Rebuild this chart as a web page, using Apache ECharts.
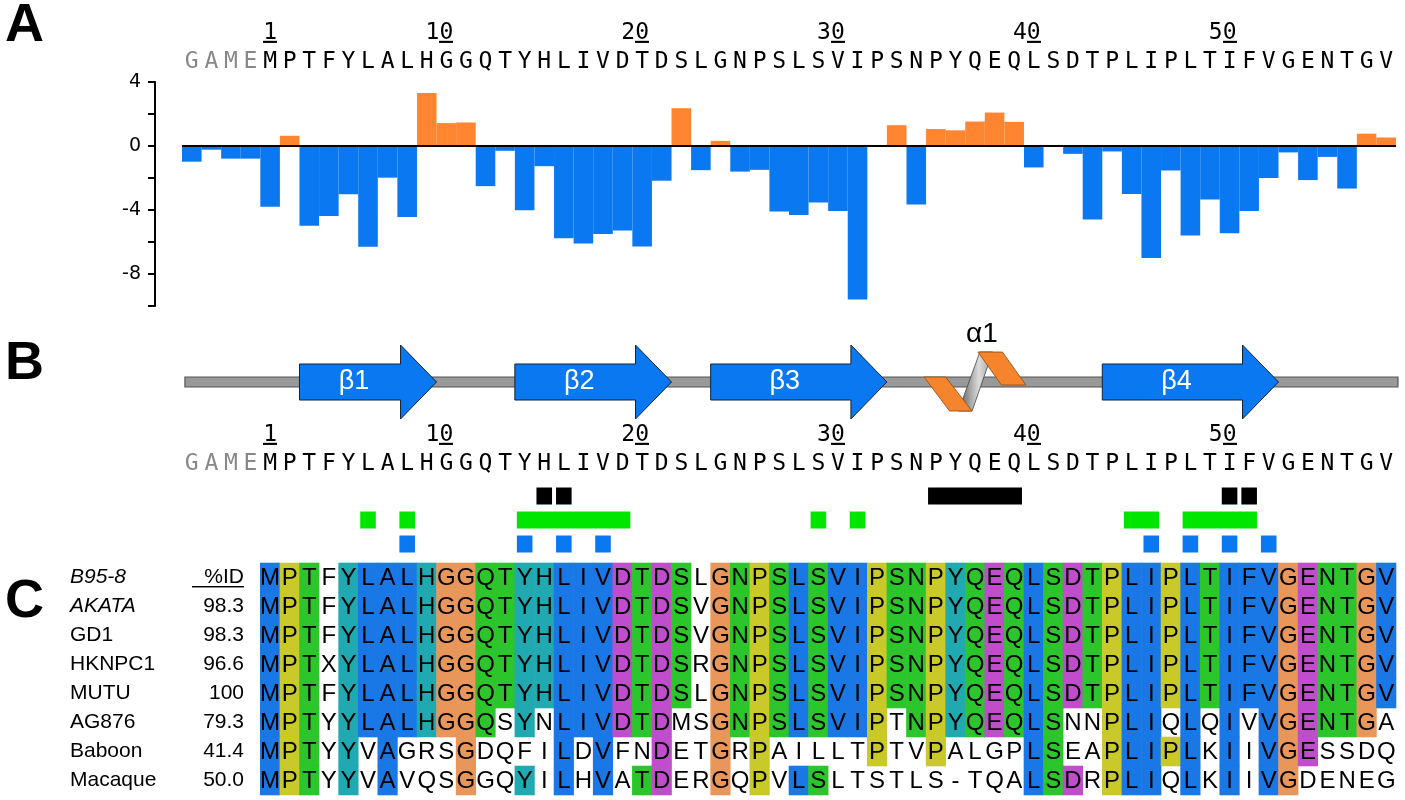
<!DOCTYPE html>
<html><head><meta charset="utf-8">
<script src="https://cdn.jsdelivr.net/npm/echarts@6/dist/echarts.min.js"></script>
<style>html,body{margin:0;padding:0;background:#fff}#c{width:1405px;height:800px}</style>
</head><body><div id="c"></div>
<script>
// ---- data ----
const seqLetters = 'GAMEMPTFYLALHGGQTYHLIVDTDSLGNPSLSVIPSNPYQEQLSDTPLIPLTIFVGENTGV'.split('');
const tagLength = 4; // GAME tag before residue 1
const hydro = [-0.98,-0.23,-0.79,-0.79,-3.8,0.64,-4.98,-4.38,-3.02,-6.3,-1.98,-4.43,3.32,1.43,1.47,-2.51,-0.3,-4.02,-1.26,-5.77,-6.1,-5.5,-5.28,-6.28,-2.17,2.36,-1.51,0.32,-1.6,-1.49,-4.1,-4.32,-3.53,-4.06,-9.6,0,1.3,-3.66,1.06,0.98,1.53,2.09,1.51,-1.34,0,-0.49,-4.6,-0.34,-3.0,-7.0,-1.53,-5.6,-3.34,-5.45,-4.06,-2.0,-0.4,-2.13,-0.68,-2.66,0.77,0.53];
const numberedResidues = [1,10,20,30,40,50];
const strands = [['β1',3,9],['β2',14,21],['β3',24,32],['β4',44,52]];
const helix = ['α1',35,39];
const blackMarks = [[15,15],[16,16],[35,39],[50,50],[51,51]];
const greenMarks = [[6,6],[8,8],[14,19],[29,29],[31,31],[45,46],[48,51]];
const blueMarks = [[8,8],[14,14],[16,16],[18,18],[46,46],[48,48],[50,50],[52,52]];
const strainNames = ['B95-8','AKATA','GD1','HKNPC1','MUTU','AG876','Baboon','Macaque'];
const pctID = ['%ID','98.3','98.3','96.6','100','79.3','41.4','50.0'];
const alignSeqs = [
 'MPTFYLALHGGQTYHLIVDTDSLGNPSLSVIPSNPYQEQLSDTPLIPLTIFVGENTGV',
 'MPTFYLALHGGQTYHLIVDTDSVGNPSLSVIPSNPYQEQLSDTPLIPLTIFVGENTGV',
 'MPTFYLALHGGQTYHLIVDTDSVGNPSLSVIPSNPYQEQLSDTPLIPLTIFVGENTGV',
 'MPTXYLALHGGQTYHLIVDTDSRGNPSLSVIPSNPYQEQLSDTPLIPLTIFVGENTGV',
 'MPTFYLALHGGQTYHLIVDTDSLGNPSLSVIPSNPYQEQLSDTPLIPLTIFVGENTGV',
 'MPTYYLALHGGQSYNLIVDTDMSGNPSLSVIPTNPYQEQLSNNPLIQLQIVVGENTGA',
 'MPTYYVAGRSGDQFILDVFNDETGRPAILLTPTVPALGPLSEAPLIPLKIIVGESSDQ',
 'MPTYYVAVQSGGQYILHVATDERGQPVLSLTSTLS-TQALSDRPLIQLKIIVGDENEG'];
const uncolored = [
 [4,23],[4,23],[4,23],[4,23],[4,23],
 [4,13,15,22,23,33,42,43,47,49,51,58],
 [4,6,8,9,10,12,13,14,15,17,19,20,22,23,25,27,28,29,30,31,33,34,36,37,38,39,42,43,49,51,55,56,57,58],
 [4,6,8,9,10,12,13,15,17,19,22,23,25,27,30,31,32,33,34,35,36,37,38,39,43,47,49,51,54,55,56,57,58]];
// ---- styles ----
const resColor = {A:'#1a77e6',I:'#1a77e6',L:'#1a77e6',M:'#1a77e6',F:'#1a77e6',V:'#1a77e6',W:'#1a77e6',
  S:'#2cc52c',T:'#2cc52c',N:'#2cc52c',Q:'#2cc52c',D:'#c04ecc',E:'#c04ecc',G:'#e8965a',P:'#c9c92a',H:'#20a9b0',Y:'#20a9b0'};
const N = seqLetters.length;
const idx = r => r + tagLength - 1;
const monoFont = 'DejaVu Sans Mono';
const FS = 23;
function underlineImg(pos){
  const c = document.createElement('canvas'); c.width = 20; c.height = 40;
  const g = c.getContext('2d'); g.fillStyle = '#000'; g.fillRect(0, pos, 20, 3); return c;
}
const ulNum = underlineImg(31), ulId = underlineImg(36);
const numLabels = seqLetters.map((_, i) => {
  const r = i - tagLength + 1;
  return numberedResidues.includes(r) ? String(r) : '';
});
function numFmt(v){
  if(!v) return '';
  if(v.length===1) return '{u|'+v+'}';
  return '{d|'+v.slice(0,-1)+'}{u|'+v.slice(-1)+'}{h|'+v.slice(0,-1)+'}';
}
const letterAxis = (grid) => ({type:'category',gridIndex:grid,data:seqLetters,position:'top',
  axisLine:{show:false},axisTick:{show:false},
  axisLabel:{interval:0,margin:8,fontFamily:monoFont,fontSize:FS,
    formatter:(v,i)=> i<tagLength ? '{g|'+v+'}' : '{k|'+v+'}',
    rich:{g:{color:'#888',fontFamily:monoFont,fontSize:FS},k:{color:'#000',fontFamily:monoFont,fontSize:FS}}}});
const numRich = {fontFamily:monoFont,fontSize:FS,lineHeight:28,height:28};
const numAxis = (grid, off) => ({type:'category',gridIndex:grid,data:numLabels,position:'top',offset:off,
  axisLine:{show:false},axisTick:{show:false},
  axisLabel:{interval:0,margin:6,fontFamily:monoFont,fontSize:FS,color:'#000',formatter:numFmt,
    rich:{d:{...numRich,color:'#000'},u:{...numRich,color:'#000',backgroundColor:{image:ulNum}},
      h:{...numRich,color:'rgba(0,0,0,0)'}}}});
const valAxis = (grid) => ({type:'value',gridIndex:grid,min:-0.5,max:N-0.5,show:false});

const alignData = [];
alignSeqs.forEach((s, row) => {
  s.split('').forEach((ch, c) => {
    const col = c+1;
    const colored = !uncolored[row].includes(col) && resColor[ch];
    alignData.push({value:[idx(col), row], ch, color: colored ? resColor[ch] : null});
  });
});
const structEls = [{kind:'backbone', a:-0.35, b:N-1+0.6}];
strands.forEach(s => structEls.push({kind:'strand', name:s[0], a:idx(s[1])-0.5, b:idx(s[2])+0.5}));
structEls.push({kind:'helix', name:helix[0], a:idx(helix[1])-0.5, b:idx(helix[2])+0.5});
const markEls = [];
[[blackMarks,'#000',0],[greenMarks,'#00e600',1],[blueMarks,'#0a78f0',2]].forEach(([arr,col,row]) =>
  arr.forEach(m => markEls.push({a:idx(m[0])-0.5, b:idx(m[1])+0.5, row, color:col})));

const chart = echarts.init(document.getElementById('c'));
const gridL = 182, gridW = 1214;
const nameRich = {fontFamily:'Liberation Sans',fontSize:21,color:'#000',lineHeight:28};
chart.setOption({
  animation:false,
  title:[
    {text:'A',left:0,top:-6,textStyle:{fontSize:54,fontWeight:'bold',fontFamily:'Liberation Sans',color:'#000'}},
    {text:'B',left:0,top:332,textStyle:{fontSize:54,fontWeight:'bold',fontFamily:'Liberation Sans',color:'#000'}},
    {text:'C',left:0,top:570,textStyle:{fontSize:54,fontWeight:'bold',fontFamily:'Liberation Sans',color:'#000'}}],
  grid:[
    {left:gridL,width:gridW,top:82,height:224},
    {left:gridL,width:gridW,top:322,height:120},
    {left:gridL,width:gridW,top:484,height:72},
    {left:gridL,width:gridW,top:563,height:232}],
  xAxis:[
    letterAxis(0), numAxis(0,29),
    valAxis(1), letterAxis(2), numAxis(2,29), valAxis(2), valAxis(3)],
  yAxis:[
    {type:'value',gridIndex:0,min:-10,max:4,interval:2,offset:27,splitLine:{show:false},
      axisLine:{show:true,lineStyle:{color:'#000',width:2}},axisTick:{show:true,length:7,lineStyle:{color:'#000',width:2}},
      axisLabel:{margin:14,fontSize:19,color:'#000',fontFamily:'DejaVu Sans',formatter:v=> v%4===0 ? String(v):''}},
    {type:'value',gridIndex:1,min:-60,max:60,show:false},
    {type:'value',gridIndex:2,min:0,max:3,inverse:true,show:false},
    {type:'category',gridIndex:3,data:strainNames,inverse:true,axisLine:{show:false},axisTick:{show:false},
      axisLabel:{align:'left',margin:gridL-70,
        formatter:(v,i)=> '{'+(i<2?'it':'n')+'|'+v+'}{'+(i===0?'pu':'p')+'|'+pctID[i]+'}',
        rich:{it:{...nameRich,fontStyle:'italic',width:122},n:{...nameRich,width:122},
          p:{...nameRich,width:52,align:'right'},
          pu:{...nameRich,width:52,align:'right',backgroundColor:{image:ulId}}}}}],
  series:[
    {type:'bar',xAxisIndex:0,yAxisIndex:0,data:hydro,barCategoryGap:'0%',
      itemStyle:{color:p=> p.value>=0 ? '#ff8530' : '#0a78f0'},
      markLine:{silent:true,symbol:'none',label:{show:false},lineStyle:{color:'#000',width:2,type:'solid'},data:[{yAxis:0}]}},
    {type:'custom',xAxisIndex:2,yAxisIndex:1,data:structEls.map((e,i)=>[i]),clip:false,
      renderItem:(params,api)=>{
        const e = structEls[params.dataIndex];
        const y0 = api.coord([0,0])[1];
        const X = v => api.coord([v,0])[0];
        const x0 = X(e.a), x1 = X(e.b);
        if(e.kind==='backbone'){
          return {type:'rect',shape:{x:x0,y:y0-5,width:x1-x0,height:10},style:{fill:'#999',stroke:'#555',lineWidth:1.2}};
        }
        if(e.kind==='strand'){
          const hl = 36, bh = 18, hh = 37;
          const xb = x1-hl;
          return {type:'group',children:[
            {type:'polygon',shape:{points:[[x0,y0-bh],[xb,y0-bh],[xb,y0-hh],[x1,y0],[xb,y0+hh],[xb,y0+bh],[x0,y0+bh]]},
              style:{fill:'#0a78f0',stroke:'#123',lineWidth:1}},
            {type:'text',style:{text:e.name,x:(x0+xb)/2+4,y:y0,align:'center',verticalAlign:'middle',fill:'#fff',
              font:'27px "Liberation Sans"'}}]};
        }
        const w = x1-x0, P = (f,dy)=>[x0+f*w, y0+dy];
        return {type:'group',children:[
          {type:'polygon',shape:{points:[P(0.33,29),P(0.47,29),P(0.68,-30),P(0.55,-30)]},
            style:{fill:new echarts.graphic.LinearGradient(0,0,1,0,[{offset:0,color:'#555'},{offset:0.6,color:'#ddd'},{offset:1,color:'#999'}]),stroke:'#444',lineWidth:0.8}},
          {type:'polygon',shape:{points:[P(-0.02,-5),P(0.2,-5),P(0.47,29),P(0.24,29)]},style:{fill:'#f5842c',stroke:'#8a4a10',lineWidth:0.8}},
          {type:'polygon',shape:{points:[P(0.53,-30),P(0.78,-30),P(1.02,3),P(0.77,3)]},style:{fill:'#f5842c',stroke:'#8a4a10',lineWidth:0.8}},
          {type:'text',style:{text:e.name,x:x0+0.57*w,y:y0-48,align:'center',verticalAlign:'middle',fill:'#000',font:'28px "Liberation Sans"'}}]};
      }},
    {type:'custom',xAxisIndex:5,yAxisIndex:2,data:markEls.map((e,i)=>[i]),clip:false,
      renderItem:(params,api)=>{
        const e = markEls[params.dataIndex];
        const a = api.coord([e.a, e.row+0.5]), b = api.coord([e.b, e.row+0.5]);
        return {type:'rect',shape:{x:a[0]+2,y:a[1]-8.5,width:b[0]-a[0]-4,height:17},style:{fill:e.color}};
      }},
    {type:'custom',xAxisIndex:6,yAxisIndex:3,data:alignData.map(d=>d.value),clip:false,
      renderItem:(params,api)=>{
        const d = alignData[params.dataIndex];
        const c = api.coord([d.value[0], d.value[1]]);
        const w = api.size([1,0])[0], h = api.size([0,1])[1];
        const ch = [];
        if(d.color) ch.push({type:'rect',shape:{x:c[0]-w/2-0.3,y:c[1]-h/2-0.3,width:w+0.6,height:h+0.6},style:{fill:d.color}});
        ch.push({type:'text',style:{text:d.ch,x:c[0],y:c[1]+1,align:'center',verticalAlign:'middle',fill:'#000',font:'24px "Liberation Sans"'}});
        return {type:'group',children:ch};
      }}
  ]
});
</script></body></html>
